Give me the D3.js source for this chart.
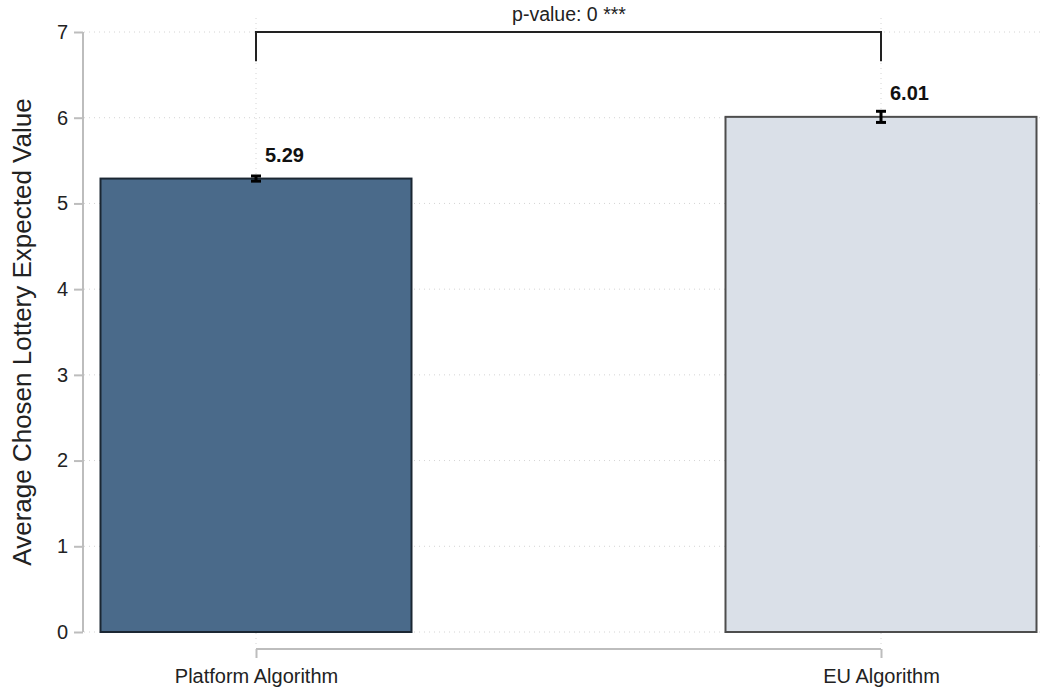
<!DOCTYPE html>
<html><head><meta charset="utf-8">
<script src="https://cdn.jsdelivr.net/npm/d3@7"></script>
<style>body{margin:0;background:#fff;} svg{display:block;font-family:"Liberation Sans",Arial,sans-serif;}</style>
</head><body>
<svg id="c" width="1044" height="693"></svg>
<script>
const categories = ["Platform Algorithm", "EU Algorithm"];
const values = [5.29, 6.01];
const errLow = [5.26, 5.945];
const errHigh = [5.32, 6.075];
const labels = ["5.29", "6.01"];
const fills = ["#4a6a8a", "#dae0e8"];
const strokes = ["#1b2733", "#4d4d4d"];
const yTicks = [0, 1, 2, 3, 4, 5, 6, 7];
const pText = "p-value: 0 ***";

const svg = d3.select("#c");
const y = d3.scaleLinear().domain([0, 7]).range([632, 32]);
const x = d3.scalePoint().domain(categories).range([256, 881]);
const bw = 311;

// horizontal grid
svg.append("g").selectAll("line").data(yTicks).join("line")
  .attr("x1", 84).attr("x2", 1040)
  .attr("y1", d => y(d)).attr("y2", d => y(d))
  .attr("stroke", "#d4d4d4").attr("stroke-width", 1).attr("stroke-dasharray", "1,4");
// vertical grid
svg.append("g").selectAll("line").data(categories).join("line")
  .attr("x1", d => x(d)).attr("x2", d => x(d))
  .attr("y1", 18).attr("y2", 648)
  .attr("stroke", "#d4d4d4").attr("stroke-width", 1).attr("stroke-dasharray", "1,4");

// y axis
const ya = svg.append("g").attr("transform", "translate(83,0)")
  .call(d3.axisLeft(y).tickValues(yTicks).tickSize(9).tickPadding(6).tickFormat(d3.format("d")));
ya.select(".domain").attr("stroke", "#bdbdbd").attr("stroke-width", 2).attr("d", "M0," + y(7) + "V" + y(0));
ya.selectAll(".tick line").attr("stroke", "#bdbdbd").attr("stroke-width", 2);
ya.selectAll(".tick text").attr("font-size", 20).attr("fill", "#222").attr("font-family", "Liberation Sans, Arial, sans-serif");

// x axis
const xa = svg.append("g").attr("transform", "translate(0,649)")
  .call(d3.axisBottom(x).tickSize(9).tickPadding(11));
xa.select(".domain").attr("stroke", "#bdbdbd").attr("stroke-width", 2).attr("d", "M" + x(categories[0]) + ",0H" + x(categories[1]));
xa.selectAll(".tick line").attr("stroke", "#bdbdbd").attr("stroke-width", 2);
xa.selectAll(".tick text").attr("font-size", 20).attr("fill", "#222").attr("font-family", "Liberation Sans, Arial, sans-serif");

// bars
svg.append("g").selectAll("rect").data(values).join("rect")
  .attr("x", (d, i) => x(categories[i]) - bw / 2)
  .attr("width", bw)
  .attr("y", d => y(d))
  .attr("height", d => y(0) - y(d))
  .attr("fill", (d, i) => fills[i])
  .attr("stroke", (d, i) => strokes[i])
  .attr("stroke-width", 2);

// error bars
const eb = svg.append("g");
values.forEach((v, i) => {
  const cx = x(categories[i]);
  eb.append("line").attr("x1", cx).attr("x2", cx).attr("y1", y(errLow[i])).attr("y2", y(errHigh[i]))
    .attr("stroke", "#000").attr("stroke-width", 3);
  [errLow[i], errHigh[i]].forEach(e => {
    eb.append("line").attr("x1", cx - 5).attr("x2", cx + 5).attr("y1", y(e)).attr("y2", y(e))
      .attr("stroke", "#000").attr("stroke-width", 3);
  });
  svg.append("text").attr("x", cx + 9).attr("y", y(v) - 17)
    .attr("font-size", 20).attr("font-weight", "bold").attr("fill", "#111").text(labels[i]);
});

// bracket
const by = y(7), bEnd = y(6.66);
svg.append("path")
  .attr("d", `M${x(categories[0])},${bEnd}V${by}H${x(categories[1])}V${bEnd}`)
  .attr("fill", "none").attr("stroke", "#222").attr("stroke-width", 2);
svg.append("text").attr("x", (x(categories[0]) + x(categories[1])) / 2 + 0.5).attr("y", 21)
  .attr("text-anchor", "middle").attr("font-size", 19.5).attr("fill", "#222").text(pText);

// y label
svg.append("text").attr("transform", `translate(31,${(y(0) + y(7)) / 2}) rotate(-90)`)
  .attr("text-anchor", "middle").attr("font-size", 26).attr("fill", "#222")
  .text("Average Chosen Lottery Expected Value");
</script>
</body></html>
